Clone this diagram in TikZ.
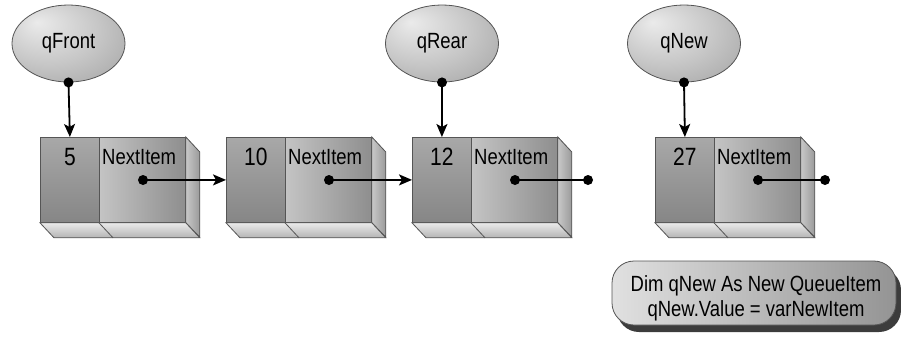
\documentclass[tikz,border=0pt]{standalone}
\usepackage{fontspec}
\setmainfont{Liberation Sans}[FakeStretch=0.84]
\usetikzlibrary{arrows.meta,shapes.geometric,shadows,calc}

\definecolor{edgegray}{HTML}{555555}
\definecolor{valtop}{HTML}{A8A8A8}
\definecolor{valbot}{HTML}{868686}
\definecolor{nxtleft}{HTML}{C4C4C4}
\definecolor{nxtright}{HTML}{8E8E8E}
\definecolor{sideA}{HTML}{C8C8C8}
\definecolor{sideB}{HTML}{F2F2F2}
\definecolor{sideC}{HTML}{9A9A9A}
\definecolor{floorA}{HTML}{EAEAEA}
\definecolor{floorB}{HTML}{B4B4B4}
\definecolor{shadowgray}{HTML}{3C3C3C}

% soft highlight for the pointer ovals, brightest up and to the left
\pgfdeclareradialshading{ovalshade}{\pgfpoint{-14bp}{14bp}}{%
  color(0bp)=(white!92!black);
  color(22bp)=(white!78!black);
  color(45bp)=(white!62!black);
  color(60bp)=(white!55!black)}

\tikzset{
  ptroval/.style={ellipse, draw=edgegray, line width=0.8pt,
    shading=ovalshade, minimum width=113pt, minimum height=77pt,
    inner sep=0pt, font=\fontsize{22}{25}\selectfont},
  valcell/.style={rectangle, draw=edgegray, line width=0.8pt,
    anchor=north west, inner sep=0pt, minimum width=59pt, minimum height=85pt,
    top color=valtop, bottom color=valbot},
  nextcell/.style={rectangle, draw=edgegray, line width=0.8pt,
    anchor=north west, inner sep=0pt, minimum width=86pt, minimum height=85pt,
    left color=nxtleft, right color=nxtright},
  sideface/.style={draw=edgegray, line width=0.8pt,
    left color=sideA, middle color=sideB, right color=sideC},
  floorface/.style={draw=edgegray, line width=0.8pt,
    top color=floorA, bottom color=floorB},
  numtext/.style={inner sep=0pt, font=\fontsize{25}{28}\selectfont},
  fieldtext/.style={inner sep=0pt, anchor=west, font=\fontsize{22}{25}\selectfont},
  knob/.style={circle, fill=black, inner sep=0pt, minimum size=10pt},
  link/.style={line width=1.8pt, -{Stealth[length=13pt,width=11pt,inset=3pt]}},
  plainlink/.style={line width=1.8pt},
  codebox/.style={rectangle, rounded corners=22pt, draw=edgegray, line width=0.8pt,
    minimum width=284pt, minimum height=64pt, inner sep=0pt,
    left color=white!88!black, right color=white!58!black,
    drop shadow={shadow xshift=5pt, shadow yshift=-7pt, fill=shadowgray, opacity=1}},
  codetext/.style={inner sep=0pt, align=center, font=\fontsize{22}{25}\selectfont}
}

% one queue item: #1 name, #2 left edge, #3 stored value
\newcommand{\queueitem}[3]{%
  \node[valcell] (#1v) at (#2,137) {};
  \node[nextcell] (#1n) at (#2+59,137) {};
  \fill[shading=axis, left color=sideA, right color=sideC]
    (#1n.north east) -- ++(14,15) -- ++(0,85) -- (#1n.south east) -- cycle;
  \draw[sideface] (#1n.north east) -- ++(14,15) -- ++(0,85) -- (#1n.south east) -- cycle;
  \draw[floorface] (#1v.south west) -- (#1n.south east) -- ++(14,15)
    -- ($(#1v.south west)+(14,15)$) -- cycle;
  \draw[draw=edgegray, line width=0.8pt] (#1n.south west) -- ++(14,15);
  \node[numtext] (#1num) at (#1v.center |- 0,157) {#3};
  \node[fieldtext] (#1lbl) at (#2+62,157) {NextItem};
  \node[knob] (#1ptr) at (#2+103,180) {};
}

\begin{document}
\begin{tikzpicture}[x=1pt,y=-1pt]
  \useasboundingbox (0,0) rectangle (901,341);

  % the four queue items
  \queueitem{a}{40}{5}
  \queueitem{b}{226}{10}
  \queueitem{c}{412}{12}
  \queueitem{d}{655}{27}

  % named pointers
  \node[ptroval] (qFront) at (68.5,43.5) {qFront};
  \node[ptroval] (qRear) at (442,43.5) {qRear};
  \node[ptroval] (qNew) at (684,43.5) {qNew};

  \node[knob] (qFrontdot) at (qFront.south) {};
  \node[knob] (qReardot) at (qRear.south) {};
  \node[knob] (qNewdot) at (qNew.south) {};

  \draw[link] (qFrontdot.center) -- (av.north);
  \draw[link] (qReardot.center) -- (cv.north);
  \draw[link] (qNewdot.center) -- (dv.north);

  % NextItem links
  \draw[link] (aptr.center) -- (bv.west);
  \draw[link] (bptr.center) -- (cv.west);

  \node[knob] (cend) at (588,180) {};
  \node[knob] (dend) at (825,180) {};
  \draw[plainlink] (cptr.center) -- (cend.center);
  \draw[plainlink] (dptr.center) -- (dend.center);

  % declaration of the new item
  \node[codebox] (code) at (754,293) {};
  \node[codetext] (codelines) at ($(code.center)+(2,5)$)
    {Dim qNew As New QueueItem\\qNew.Value = varNewItem};
\end{tikzpicture}
\end{document}
